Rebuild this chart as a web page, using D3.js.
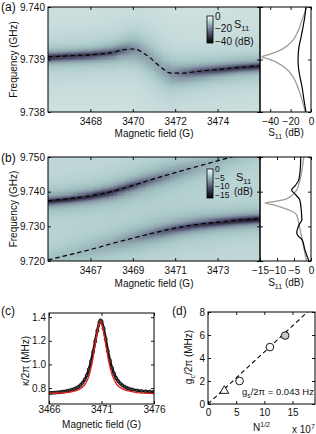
<!DOCTYPE html>
<html><head><meta charset="utf-8">
<script src="https://cdn.jsdelivr.net/npm/d3@7"></script>
<style>
body{margin:0;background:#fff;}
svg{display:block;}
</style></head>
<body><svg id="fig" width="316" height="434"></svg>
<script>
// ================= DATA =================
// ---- panel (a) ----
const aFieldDomain = [3466, 3476];
const aFreqDomain = [9.738, 9.740];
const aXTicks = [3468, 3470, 3472, 3474];
const aYTicks = [9.738, 9.739, 9.740];
// dashed fit curve (field G, frequency GHz)
const aFitField = [3466, 3467, 3468, 3469, 3469.5, 3469.9, 3470.2, 3470.5, 3470.8, 3471.1, 3471.4, 3471.8, 3472.3, 3473, 3474, 3475, 3476];
const aFitFreq  = [9.73905, 9.73907, 9.73909, 9.73913, 9.73918, 9.73920, 9.73919, 9.73912, 9.73904, 9.73893, 9.73883, 9.73874, 9.73874, 9.73877, 9.73881, 9.73885, 9.73888];
// resonance dip depth (dB) and half width (MHz) along field
const aTraceField = [3466, 3467, 3468, 3469, 3469.5, 3470, 3470.5, 3471, 3471.5, 3472, 3472.5, 3473, 3474, 3475, 3476];
const aTraceDepth = [-24, -24, -23, -20, -16, -11, -8, -7, -8, -11, -15, -19, -22, -24, -26];
const aTraceWidth = [0.07, 0.07, 0.075, 0.09, 0.11, 0.16, 0.22, 0.25, 0.22, 0.16, 0.12, 0.10, 0.085, 0.075, 0.07];
const aBackgroundDb = -5.5, aHaloDb = -2.5, aHaloWidth = 0.4;
const aColorDomain = [-42, 0];
const aBarTicks = [0, -20, -40];
// line cuts (a)
const aCutDomain = [-50, 0];
const aCutTicks = [-40, -20, 0];
const aGreyFreq = [9.73800, 9.73823, 9.73845, 9.73867, 9.73882, 9.73894, 9.73901, 9.73905, 9.73909, 9.73915, 9.73925, 9.73937, 9.73955, 9.73975, 9.74000];
const aGreyDb   = [-5.5, -8.8, -12.5, -17.6, -24, -33.3, -42, -48, -42, -33.3, -24, -17.6, -12.5, -8.8, -3.9];
const aBlackFreq = [9.73800, 9.73823, 9.73850, 9.73867, 9.73880, 9.73899, 9.73910, 9.73924, 9.73940, 9.73962, 9.73980, 9.74000];
const aBlackDb   = [-5.0, -6.9, -9.0, -10.8, -12.0, -12.7, -12.5, -11.8, -10.0, -7.8, -6.2, -5.0];

// ---- panel (b) ----
const bFieldDomain = [3465, 3475];
const bFreqDomain = [9.720, 9.750];
const bXTicks = [3467, 3469, 3471, 3473];
const bYTicks = [9.720, 9.730, 9.740, 9.750];
const bField      = [3465, 3466, 3467, 3468, 3469, 3470, 3471, 3472, 3473, 3474, 3475];
const bUpperFreq  = [9.7374, 9.7380, 9.7388, 9.7400, 9.7418, 9.7437, 9.7455, 9.7472, 9.7489, 9.7506, 9.7523];
const bLowerFreq  = [9.7203, 9.7218, 9.7233, 9.7250, 9.7266, 9.7281, 9.7295, 9.7305, 9.7312, 9.7318, 9.7322];
const bUpperDepth = [-10, -10, -9.5, -9, -7.5, -5, -3, -1.8, -1.2, -0.8, -0.5];
const bUpperWidth = [0.9, 0.9, 1.0, 1.1, 1.3, 1.6, 2.0, 2.2, 2.2, 2.2, 2.2];
const bLowerDepth = [-0.5, -0.8, -1.2, -1.8, -3, -5, -7, -8.5, -9.5, -10, -10.5];
const bLowerWidth = [2.2, 2.2, 2.2, 2.1, 1.9, 1.6, 1.3, 1.1, 1.0, 0.95, 0.9];
const bBackgroundDb = -2.8, bHaloDb = -1.2, bHaloWidth = 4;
const bColorDomain = [-17, 0];
const bBarTicks = [0, -5, -10, -15];
const bCutDomain = [-15, 0];
const bCutTicks = [-15, -10, -5, 0];
const bGreyFreq = [9.7200, 9.7252, 9.7300, 9.7318, 9.7333, 9.7345, 9.7353, 9.7362, 9.7367, 9.7371, 9.7376, 9.7385, 9.7405, 9.7420, 9.7460, 9.7500];
const bGreyDb   = [-1.3, -2.4, -3.4, -3.8, -4.2, -6.0, -8.2, -11, -13.5, -11, -8.2, -6.2, -4.2, -3.6, -2.7, -2.1];
const bBlackFreq = [9.7200, 9.7232, 9.7261, 9.7270, 9.7281, 9.7295, 9.7310, 9.7318, 9.7350, 9.7376, 9.7392, 9.7405, 9.7418, 9.7434, 9.7460, 9.7500];
const bBlackDb   = [-0.6, -1.8, -2.6, -3.6, -4.2, -3.9, -3.2, -2.7, -2.9, -3.3, -4.6, -5.7, -4.6, -3.6, -3.2, -3.0];

// ---- panel (c) ----
const cFieldDomain = [3466, 3476];
const cKappaDomain = [0.665, 1.435];
const cXTicks = [3466, 3471, 3476];
const cYTicks = [0.8, 1.0, 1.2, 1.4];
const cDataField = [3466.0, 3466.2, 3466.4, 3466.6, 3466.8, 3467.0, 3467.2, 3467.4, 3467.6, 3467.8, 3468.0, 3468.2, 3468.4, 3468.6, 3468.8, 3469.0, 3469.2, 3469.4, 3469.6, 3469.8, 3470.0, 3470.2, 3470.4, 3470.6, 3470.8, 3470.9, 3471.0, 3471.2, 3471.4, 3471.6, 3471.8, 3472.0, 3472.2, 3472.4, 3472.6, 3472.8, 3473.0, 3473.2, 3473.4, 3473.6, 3473.8, 3474.0, 3474.4, 3474.8, 3475.2, 3475.6, 3476.0];
const cDataKappa = [0.758, 0.759, 0.760, 0.761, 0.763, 0.765, 0.767, 0.770, 0.773, 0.777, 0.781, 0.786, 0.792, 0.800, 0.810, 0.825, 0.845, 0.872, 0.908, 0.958, 1.025, 1.105, 1.195, 1.285, 1.355, 1.373, 1.365, 1.305, 1.215, 1.115, 1.035, 0.970, 0.922, 0.885, 0.858, 0.838, 0.823, 0.811, 0.802, 0.795, 0.789, 0.785, 0.779, 0.775, 0.772, 0.770, 0.768];
const cFitField = [3466, 3467, 3468, 3468.5, 3469, 3469.5, 3469.8, 3470.1, 3470.4, 3470.7, 3470.9, 3471.1, 3471.4, 3471.7, 3472.0, 3472.4, 3473, 3474, 3475, 3476];
const cFitKappa = [0.755, 0.758, 0.766, 0.776, 0.795, 0.840, 0.900, 1.010, 1.170, 1.320, 1.365, 1.320, 1.170, 1.020, 0.915, 0.838, 0.793, 0.768, 0.757, 0.752];

// ---- panel (d) ----
const dNDomain = [0, 19];
const dGDomain = [0, 8];
const dXTicks = [0, 5, 10, 15];
const dYTicks = [0, 2, 4, 6, 8];
const dN = [2.9, 5.6, 11.0, 13.7];
const dG = [1.15, 2.0, 4.95, 5.95];
const dMarker = ['triangle', 'open', 'open', 'filled'];
const dFitN = [0, 19];
const dFitG = [0, 8.6];

// ================= DRAWING =================
const FF = '"Liberation Sans", Arial, Helvetica, sans-serif';
const svg = d3.select('#fig');
const defs = svg.append('defs');
const boneRamp = d3.scaleLinear().domain([0, 0.375, 0.75, 1])
  .range(['#000000', '#545474', '#a7c7c7', '#ffffff']).clamp(true);
const cmapFor = dom => v => boneRamp((v - dom[0]) / (dom[1] - dom[0]));

function styleAxis(g) {
  g.select('.domain').remove();
  g.attr('font-family', FF).attr('font-size', 10).attr('color', '#000');
  g.selectAll('text').attr('fill', '#111');
  g.selectAll('line').attr('stroke', '#000').attr('stroke-width', 0.9);
}
const blank = () => '';
function frameAxes(xS, yS, xTicks, yTicks, xFmt, yFmt, xPad, yPad) {
  const [x0, x1] = xS.range();
  const [yb, yt] = yS.range();
  svg.append('g').attr('transform', `translate(0,${yb})`)
    .call(d3.axisBottom(xS).tickValues(xTicks).tickFormat(xFmt || blank).tickSizeInner(-3).tickSizeOuter(0).tickPadding(xPad)).call(styleAxis);
  svg.append('g').attr('transform', `translate(0,${yt})`)
    .call(d3.axisTop(xS).tickValues(xTicks).tickFormat(blank).tickSizeInner(-3).tickSizeOuter(0)).call(styleAxis);
  svg.append('g').attr('transform', `translate(${x0},0)`)
    .call(d3.axisLeft(yS).tickValues(yTicks).tickFormat(yFmt || blank).tickSizeInner(-3).tickSizeOuter(0).tickPadding(yPad)).call(styleAxis);
  svg.append('g').attr('transform', `translate(${x1},0)`)
    .call(d3.axisRight(yS).tickValues(yTicks).tickFormat(blank).tickSizeInner(-3).tickSizeOuter(0)).call(styleAxis);
  svg.append('rect').attr('x', x0).attr('y', yt).attr('width', x1 - x0).attr('height', yb - yt)
    .attr('fill', 'none').attr('stroke', '#000').attr('stroke-width', 1);
}
function rich(x, y, parts, opt = {}) {
  const size = opt.size || 10;
  const t = svg.append('text')
    .attr('transform', `translate(${x},${y}) rotate(${opt.rotate || 0})`)
    .attr('text-anchor', opt.anchor || 'start')
    .attr('font-size', size).attr('font-family', FF).attr('fill', '#111');
  let shift = 0;
  parts.forEach(p => {
    const target = p.sub ? 3 : (p.sup ? -4 : 0);
    const s = t.append('tspan').text(p.t).attr('dy', target - shift);
    shift = target;
    if (p.sub || p.sup) s.attr('font-size', size * 0.7);
  });
  return t;
}
function clipFor(id, xS, yS) {
  const [x0, x1] = xS.range(); const [yb, yt] = yS.range();
  defs.append('clipPath').attr('id', id).append('rect')
    .attr('x', x0).attr('y', yt).attr('width', x1 - x0).attr('height', yb - yt);
  return `url(#${id})`;
}
function heatmap(xS, yS, bStep, fStep, valueFn, cmap, clip) {
  const [B0, B1] = xS.domain(); const [F0, F1] = yS.domain();
  const Bs = d3.range(B0, B1 + 1e-9, bStep);
  const Fs = d3.range(F0, F1 + fStep * 0.01, fStep);
  const cells = [];
  Bs.forEach(B => Fs.forEach(f => cells.push({ B, f, v: valueFn(B, f) })));
  const w = Math.abs(xS(B0 + bStep) - xS(B0)) + 0.6;
  const h = Math.abs(yS(F0) - yS(F0 + fStep)) + 0.6;
  svg.append('g').attr('clip-path', clip).attr('shape-rendering', 'crispEdges')
    .selectAll('rect').data(cells).join('rect')
    .attr('x', d => xS(d.B - bStep / 2)).attr('y', d => yS(d.f + fStep / 2))
    .attr('width', w).attr('height', h).attr('fill', d => cmap(d.v));
}
function colorbar(id, x, y0, y1, dom, ticks, lastSuffix, fs) {
  const g = defs.append('linearGradient').attr('id', id).attr('x1', 0).attr('y1', 0).attr('x2', 0).attr('y2', 1);
  [[0, 1], [0.25, 0.75], [0.625, 0.375], [1, 0]].forEach(([o, t]) =>
    g.append('stop').attr('offset', o).attr('stop-color', boneRamp(t)));
  svg.append('rect').attr('x', x).attr('y', y0).attr('width', 6).attr('height', y1 - y0)
    .attr('fill', `url(#${id})`).attr('stroke', '#000').attr('stroke-width', 0.8);
  const s = d3.scaleLinear().domain(dom).range([y1, y0]);
  svg.append('g').selectAll('text').data(ticks).join('text')
    .attr('x', x + 8).attr('y', d => s(d) + fs * 0.35)
    .attr('font-size', fs).attr('font-family', FF).attr('fill', '#111')
    .text((d, i) => d3.format('d')(d) + (lastSuffix && i === ticks.length - 1 ? lastSuffix : ''));
}
const dash = '4.5,3';

// ---------- (a) ----------
const ax = d3.scaleLinear().domain(aFieldDomain).range([48, 260]);
const ay = d3.scaleLinear().domain(aFreqDomain).range([112, 7]);
const acx = d3.scaleLinear().domain(aCutDomain).range([260, 311]);
const aCenter = d3.scaleLinear().domain(aFitField).range(aFitFreq).clamp(true);
const aDepth = d3.scaleLinear().domain(aTraceField).range(aTraceDepth).clamp(true);
const aWidth = d3.scaleLinear().domain(aTraceField).range(aTraceWidth).clamp(true);
const aClip = clipFor('clipA', ax, ay);
heatmap(ax, ay, 0.125, 0.00002, (B, f) => {
  const d = (f - aCenter(B)) * 1000;
  return aBackgroundDb + aHaloDb / (1 + (d / aHaloWidth) ** 2) + aDepth(B) / (1 + (d / aWidth(B)) ** 2);
}, cmapFor(aColorDomain), aClip);
svg.append('path').attr('clip-path', aClip)
  .datum(aFitField.map((B, i) => [B, aFitFreq[i]]))
  .attr('d', d3.line().x(d => ax(d[0])).y(d => ay(d[1])).curve(d3.curveMonotoneX))
  .attr('fill', 'none').attr('stroke', '#000').attr('stroke-width', 1.2).attr('stroke-dasharray', dash);
colorbar('gradA', 207, 16, 43, aColorDomain, aBarTicks, ' (dB)', 10);
rich(234, 28, [{ t: 'S', }, { t: '11', sub: true }], { size: 11 });
frameAxes(ax, ay, aXTicks, aYTicks, d3.format('d'), d3.format('.3f'), 6, 3);
// cuts
const cutLineA = d3.line().x(d => acx(d[1])).y(d => ay(d[0])).curve(d3.curveMonotoneY);
svg.append('path').datum(aGreyFreq.map((f, i) => [f, aGreyDb[i]]).sort((p, q) => p[0] - q[0]))
  .attr('d', cutLineA).attr('fill', 'none').attr('stroke', '#9d9d9d').attr('stroke-width', 1.3);
svg.append('path').datum(aBlackFreq.map((f, i) => [f, aBlackDb[i]]).sort((p, q) => p[0] - q[0]))
  .attr('d', cutLineA).attr('fill', 'none').attr('stroke', '#000').attr('stroke-width', 1.2);
frameAxes(acx, ay, aCutTicks, aYTicks, d3.format('d'), null, 6, 3);
rich(1, 11, [{ t: '(a)' }], { size: 12 });
rich(16.5, 59.5, [{ t: 'Frequency (GHz)' }], { anchor: 'middle', rotate: -90 });
rich(154, 137, [{ t: 'Magnetic field (G)' }], { anchor: 'middle' });
rich(286, 136, [{ t: 'S' }, { t: '11', sub: true }, { t: ' (dB)' }], { anchor: 'middle' });

// ---------- (b) ----------
const bx = d3.scaleLinear().domain(bFieldDomain).range([48, 260]);
const by = d3.scaleLinear().domain(bFreqDomain).range([261, 157]);
const bcx = d3.scaleLinear().domain(bCutDomain).range([260, 311]);
const bU = d3.scaleLinear().domain(bField).range(bUpperFreq).clamp(true);
const bL = d3.scaleLinear().domain(bField).range(bLowerFreq).clamp(true);
const bUD = d3.scaleLinear().domain(bField).range(bUpperDepth).clamp(true);
const bUW = d3.scaleLinear().domain(bField).range(bUpperWidth).clamp(true);
const bLD = d3.scaleLinear().domain(bField).range(bLowerDepth).clamp(true);
const bLW = d3.scaleLinear().domain(bField).range(bLowerWidth).clamp(true);
const bClip = clipFor('clipB', bx, by);
heatmap(bx, by, 0.125, 0.0003, (B, f) => {
  const du = (f - bU(B)) * 1000, dl = (f - bL(B)) * 1000;
  return bBackgroundDb
    + bHaloDb / (1 + (du / bHaloWidth) ** 2) + bHaloDb / (1 + (dl / bHaloWidth) ** 2)
    + bUD(B) / (1 + (du / bUW(B)) ** 2) + bLD(B) / (1 + (dl / bLW(B)) ** 2);
}, cmapFor(bColorDomain), bClip);
const bLine = d3.line().x(d => bx(d[0])).y(d => by(d[1])).curve(d3.curveMonotoneX);
[bUpperFreq, bLowerFreq].forEach(arr => {
  svg.append('path').attr('clip-path', bClip)
    .datum(bField.map((B, i) => [B, arr[i]]))
    .attr('d', bLine).attr('fill', 'none').attr('stroke', '#000')
    .attr('stroke-width', 1.2).attr('stroke-dasharray', dash);
});
colorbar('gradB', 207, 169, 198, bColorDomain, bBarTicks, '', 8.5);
rich(236, 181, [{ t: 'S' }, { t: '11', sub: true }], { size: 11 });
rich(234, 195, [{ t: '(dB)' }]);
frameAxes(bx, by, bXTicks, bYTicks, d3.format('d'), d3.format('.3f'), 6, 3);
const cutLineB = d3.line().x(d => bcx(d[1])).y(d => by(d[0])).curve(d3.curveMonotoneY);
svg.append('path').datum(bGreyFreq.map((f, i) => [f, bGreyDb[i]]).sort((p, q) => p[0] - q[0]))
  .attr('d', cutLineB).attr('fill', 'none').attr('stroke', '#9d9d9d').attr('stroke-width', 1.3);
svg.append('path').datum(bBlackFreq.map((f, i) => [f, bBlackDb[i]]).sort((p, q) => p[0] - q[0]))
  .attr('d', cutLineB).attr('fill', 'none').attr('stroke', '#000').attr('stroke-width', 1.2);
frameAxes(bcx, by, bCutTicks, bYTicks, d3.format('d'), null, 6, 3);
rich(1, 162, [{ t: '(b)' }], { size: 12 });
rich(16.5, 209, [{ t: 'Frequency (GHz)' }], { anchor: 'middle', rotate: -90 });
rich(154, 287, [{ t: 'Magnetic field (G)' }], { anchor: 'middle' });
rich(286, 286, [{ t: 'S' }, { t: '11', sub: true }, { t: ' (dB)' }], { anchor: 'middle' });

// ---------- (c) ----------
const cx = d3.scaleLinear().domain(cFieldDomain).range([49, 154]);
const cy = d3.scaleLinear().domain(cKappaDomain).range([404, 313]);
const cClip = clipFor('clipC', cx, cy);
const cLine = d3.line().x(d => cx(d[0])).y(d => cy(d[1])).curve(d3.curveMonotoneX);
const cPts = cDataField.map((B, i) => [B, cDataKappa[i]]);
svg.append('path').attr('clip-path', cClip).datum(cPts).attr('d', cLine)
  .attr('fill', 'none').attr('stroke', '#111').attr('stroke-width', 2.6);
svg.append('g').attr('clip-path', cClip).selectAll('circle').data(cPts).join('circle')
  .attr('cx', d => cx(d[0])).attr('cy', d => cy(d[1])).attr('r', 1.6)
  .attr('fill', '#444').attr('stroke', '#000').attr('stroke-width', 0.6);
svg.append('path').attr('clip-path', cClip).datum(cFitField.map((B, i) => [B, cFitKappa[i]]))
  .attr('d', cLine).attr('fill', 'none').attr('stroke', '#e3211c').attr('stroke-width', 1.3);
frameAxes(cx, cy, cXTicks, cYTicks, d3.format('d'), d3.format('.1f'), 2, 3);
rich(1, 315, [{ t: '(c)' }], { size: 12 });
rich(28.5, 361, [{ t: 'κ/2π (MHz)' }], { anchor: 'middle', rotate: -90 });
rich(101.5, 428, [{ t: 'Magnetic field (G)' }], { anchor: 'middle' });

// ---------- (d) ----------
const dx = d3.scaleLinear().domain(dNDomain).range([208, 315]);
const dy = d3.scaleLinear().domain(dGDomain).range([404, 312]);
const dClip = clipFor('clipD', dx, dy);
svg.append('path').attr('clip-path', dClip).datum(dFitN.map((n, i) => [n, dFitG[i]]))
  .attr('d', d3.line().x(d => dx(d[0])).y(d => dy(d[1])))
  .attr('fill', 'none').attr('stroke', '#000').attr('stroke-width', 1.1).attr('stroke-dasharray', dash);
const dPts = dN.map((n, i) => ({ n, g: dG[i], m: dMarker[i] }));
svg.append('g').selectAll('path').data(dPts).join('path')
  .attr('transform', d => `translate(${dx(d.n)},${dy(d.g)})`)
  .attr('d', d => d.m === 'triangle' ? d3.symbol(d3.symbolTriangle, 34)() : d3.symbol(d3.symbolCircle, 46)())
  .attr('fill', d => d.m === 'filled' ? '#c8c8c8' : '#fff')
  .attr('stroke', '#000').attr('stroke-width', 0.9);
frameAxes(dx, dy, dXTicks, dYTicks, d3.format('d'), d3.format('d'), 5, 3);
rich(172, 315, [{ t: '(d)' }], { size: 12 });
rich(191.5, 357, [{ t: 'g' }, { t: 'c', sub: true }, { t: '/2π (MHz)' }], { anchor: 'middle', rotate: -90 });
rich(242, 395, [{ t: 'g' }, { t: 's', sub: true }, { t: '/2π = 0.043 Hz' }], { size: 9.5 });
rich(253, 431, [{ t: 'N' }, { t: '1/2', sup: true }]);
rich(292, 433, [{ t: 'x 10' }, { t: '7', sup: true }]);
</script>
</body></html>
